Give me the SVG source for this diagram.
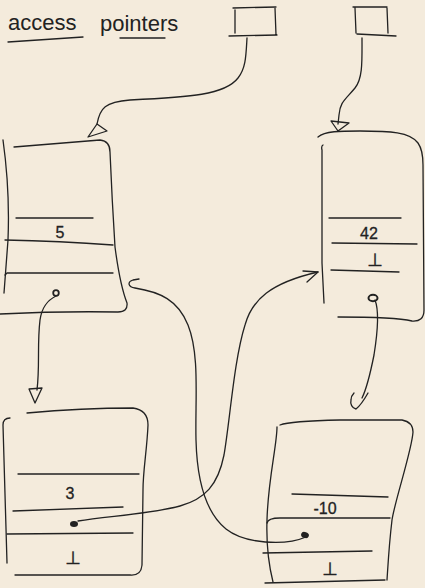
<svg xmlns="http://www.w3.org/2000/svg" width="425" height="588" viewBox="0 0 425 588">
<style>
.s{fill:none;stroke:#222;stroke-width:1.3;stroke-linecap:round;stroke-linejoin:round}
.t{font-family:"Liberation Sans","DejaVu Sans",sans-serif;fill:#222}
.v{font-family:"Liberation Sans","DejaVu Sans",sans-serif;font-size:16px;fill:#222;stroke:#222;stroke-width:0.3;text-anchor:middle}
.b{font-family:"DejaVu Sans",sans-serif;font-size:18px;fill:#222;stroke:#222;stroke-width:0.4;text-anchor:middle}
</style>
<rect width="425" height="588" fill="#f4ebdc"/>
<g id="title">
<text class="t" x="8" y="30" font-size="22">access</text>
<text class="t" x="100" y="31" font-size="22">pointers</text>
<path class="s" d="M8,42 L83,37"/>
<path class="s" d="M120,38 L165,38"/>
</g>
<g id="ptr1">
<path class="s" d="M233,8 L276,7 M235,10 L235,33 M275,8 L276,35 M229,36 L277,35"/>
</g>
<g id="ptr2">
<path class="s" d="M353,7 L387,7 M355,8 L356,33 M387,8 L388,33 M357,34 L396,36"/>
</g>
<g id="node5">
<path class="s" d="M3,140 Q10,190 8,240 L4,293"/>
<path class="s" d="M14,147 L100,140 Q110,141 110,152 Q112,200 115,247 Q120,285 127,303 Q128,312 118,312 Q60,311 0,314"/>
<path class="s" d="M16,218 L93,218 M5,240 Q60,241 113,245 M5,275 L7,273 L113,273"/>
<text class="v" x="60" y="238">5</text>
<circle cx="56" cy="293" r="2.8" fill="none" stroke="#222" stroke-width="1.8"/>
</g>
<g id="node42">
<path class="s" d="M323,145 Q321,146 322,150 L322,263 L324,303"/>
<path class="s" d="M318,137 C325,131 340,131 360,131 C390,131 410,132 418,143 Q423,150 423,165 L424,310 Q424,322 412,321 Q395,317 338,317"/>
<path class="s" d="M329,218 L401,218 M332,243 L417,244 M331,270 L399,272"/>
<text class="v" x="369" y="239">42</text>
<text class="b" x="375" y="266">⊥</text>
<ellipse cx="373" cy="298" rx="4.5" ry="3.2" fill="none" stroke="#222" stroke-width="2"/>
</g>
<g id="node3">
<path class="s" d="M10,418 Q3,418 3,425 Q5,500 7,563"/>
<path class="s" d="M27,413 C60,410 100,408 133,408 Q148,410 148,425 C147,450 143,470 143,490 L142,565 Q141,576 130,575 L15,575"/>
<path class="s" d="M18,474 L139,474 M13,511 L123,507 M7,534 L133,533"/>
<text class="v" x="70" y="499">3</text>
<text class="b" x="73" y="564">⊥</text>
<ellipse cx="74" cy="524" rx="4" ry="3" fill="#222"/>
</g>
<g id="node10">
<path class="s" d="M277,427 C277,445 268,480 267,520 C266,550 270,570 273,582"/>
<path class="s" d="M280,425 Q290,421 340,420 L402,420 Q413,422 413,432 C412,450 395,500 392,520 C389,545 388,565 387,580"/>
<path class="s" d="M292,494 L388,497 M267,523 Q268,518 280,518 L390,518 M263,553 L372,551 M265,583 L385,580"/>
<text class="v" x="325" y="514">-10</text>
<text class="b" x="330" y="575">⊥</text>
<ellipse cx="305" cy="535" rx="4" ry="3" fill="#222" transform="rotate(20 305 535)"/>
</g>
<g id="connectors">
<path class="s" d="M247,38 C246,55 246,68 238,78 C225,95 190,97 130,100 C105,102 100,108 97,124"/>
<path class="s" d="M97,124 L88,137 L107,131 Z"/>
<path class="s" d="M362,38 C362,60 363,78 355,88 C345,100 340,102 339,115 L338,124"/>
<path class="s" d="M331,121 L349,123 L338,131 Z"/>
<path class="s" d="M56,296 C48,300 42,306 40,320 C37,345 40,365 37,390"/>
<path class="s" d="M29,389 L42,388 L35,403 Z"/>
<path class="s" d="M78,521 C110,516 150,514 180,506 C205,499 218,485 224,455 C230,420 234,360 245,325 C252,300 270,283 318,272"/>
<path class="s" d="M303,271 L318,272 L307,282"/>
<path class="s" d="M306,537 C285,546 245,544 226,529 C205,512 197,480 196,440 C195,400 200,355 188,325 C178,300 160,292 135,288 C128,287 127,282 133,280 L139,279"/>
<path class="s" d="M375,300 C379,310 378,330 374,355 C370,375 366,390 362,398"/>
<path class="s" d="M368,393 C364,400 360,406 356,409 C352,408 350,404 351,400 C351,397 352,395 354,393"/>
</g>
</svg>
